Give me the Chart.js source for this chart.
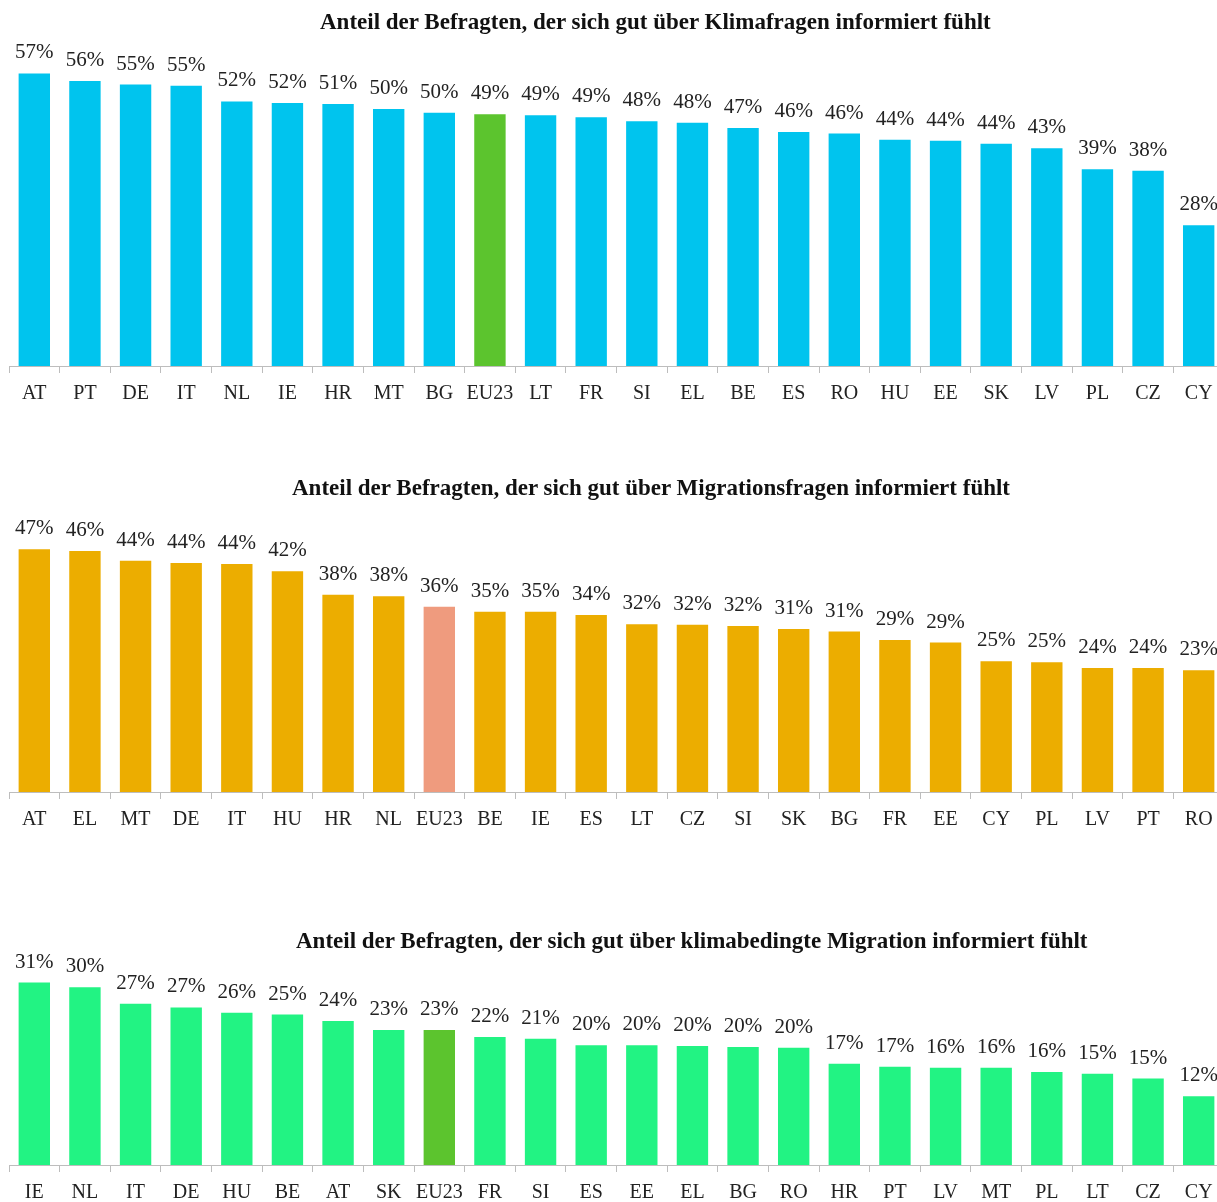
<!DOCTYPE html>
<html lang="de">
<head>
<meta charset="utf-8">
<script src="https://cdn.jsdelivr.net/npm/chart.js@4.4.1/dist/chart.umd.min.js"></script>
<style>
    html, body { margin: 0; padding: 0; background: #fff; overflow: hidden; width: 1217px; height: 1202px; }
    canvas { position: absolute; left: 0; }
    .titulo {
        position: absolute;
        font-family: "Liberation Serif", serif;
        font-weight: bold;
        font-size: 23px;
        line-height: 26px;
        color: #111;
        white-space: nowrap;
    }
</style>
</head>
<body>
<canvas id="grafico1" width="1230" height="430" style="top:0px"></canvas>
<canvas id="grafico2" width="1230" height="416" style="top:440px"></canvas>
<canvas id="grafico3" width="1230" height="330" style="top:899px"></canvas>

<div class="titulo" style="left:320px; top:9px;">Anteil der Befragten, der sich gut über Klimafragen informiert fühlt</div>
<div class="titulo" style="left:292px; top:475px;">Anteil der Befragten, der sich gut über Migrationsfragen informiert fühlt</div>
<div class="titulo" style="left:296px; top:928px;">Anteil der Befragten, der sich gut über klimabedingte Migration informiert fühlt</div>

<script>
const paisesClima = ['AT', 'PT', 'DE', 'IT', 'NL', 'IE', 'HR', 'MT', 'BG', 'EU23', 'LT', 'FR', 'SI', 'EL', 'BE', 'ES', 'RO', 'HU', 'EE', 'SK', 'LV', 'PL', 'CZ', 'CY'];
const valoresClima = [57.4, 55.9, 55.2, 55.0, 51.9, 51.6, 51.4, 50.4, 49.7, 49.4, 49.2, 48.8, 48.0, 47.7, 46.7, 45.9, 45.6, 44.4, 44.2, 43.6, 42.7, 38.6, 38.3, 27.6];

const paisesMigracion = ['AT', 'EL', 'MT', 'DE', 'IT', 'HU', 'HR', 'NL', 'EU23', 'BE', 'IE', 'ES', 'LT', 'CZ', 'SI', 'SK', 'BG', 'FR', 'EE', 'CY', 'PL', 'LV', 'PT', 'RO'];
const valoresMigracion = [46.6, 46.3, 44.4, 44.0, 43.8, 42.4, 37.9, 37.6, 35.6, 34.6, 34.6, 34.0, 32.2, 32.1, 31.9, 31.3, 30.8, 29.2, 28.7, 25.1, 24.9, 23.8, 23.8, 23.4];

const paisesClimaMigracion = ['IE', 'NL', 'IT', 'DE', 'HU', 'BE', 'AT', 'SK', 'EU23', 'FR', 'SI', 'ES', 'EE', 'EL', 'BG', 'RO', 'HR', 'PT', 'LV', 'MT', 'PL', 'LT', 'CZ', 'CY'];
const valoresClimaMigracion = [30.8, 30.0, 27.2, 26.6, 25.7, 25.4, 24.3, 22.8, 22.8, 21.6, 21.3, 20.2, 20.2, 20.1, 19.9, 19.8, 17.1, 16.6, 16.4, 16.4, 15.7, 15.4, 14.6, 11.6];

// etiquetas de porcentaje encima de cada barra
const etiquetasValor = {
    id: 'etiquetasValor',
    afterDatasetsDraw(chart) {
        const ctx = chart.ctx;
        const meta = chart.getDatasetMeta(0);
        const datos = chart.data.datasets[0].data;
        ctx.save();
        ctx.font = '21px "Liberation Serif", serif';
        ctx.fillStyle = '#222';
        ctx.textAlign = 'center';
        ctx.textBaseline = 'alphabetic';
        meta.data.forEach((barra, i) => {
            ctx.fillText(Math.round(datos[i]) + '%', barra.x, barra.y - 15);
        });
        ctx.restore();
    }
};

function crearGrafico(id, paises, valores, colorBase, colorEU, maxY) {
    const ctx = document.getElementById(id).getContext('2d');
    new Chart(ctx, {
        type: 'bar',
        data: {
            labels: paises,
            datasets: [{
                data: valores,
                backgroundColor: paises.map(p => p === 'EU23' ? colorEU : colorBase),
                borderWidth: 0,
                barPercentage: 0.62,
                categoryPercentage: 1
            }]
        },
        options: {
            responsive: false,
            animation: false,
            layout: { padding: { left: 9, right: 6, top: 0, bottom: 0 } },
            plugins: {
                legend: { display: false },
                tooltip: { enabled: false }
            },
            scales: {
                x: {
                    offset: true,
                    grid: { drawOnChartArea: false, drawTicks: true, tickLength: 7, color: '#bdbdbd', lineWidth: 1 },
                    border: { color: '#bdbdbd', width: 1 },
                    ticks: {
                        autoSkip: false,
                        maxRotation: 0,
                        padding: 9,
                        color: '#222',
                        font: { family: 'Liberation Serif', size: 20 }
                    },
                    afterFit(scale) { scale.height = 64; }
                },
                y: {
                    display: false,
                    min: 0,
                    max: maxY
                }
            }
        },
        plugins: [etiquetasValor]
    });
}

crearGrafico('grafico1', paisesClima, valoresClima, '#00c4ee', '#5cc42e', 71.8);
crearGrafico('grafico2', paisesMigracion, valoresMigracion, '#ecad00', '#ef9b7e', 67.6);
crearGrafico('grafico3', paisesClimaMigracion, valoresClimaMigracion, '#22f383', '#5cc42e', 44.9);
</script>
</body>
</html>
